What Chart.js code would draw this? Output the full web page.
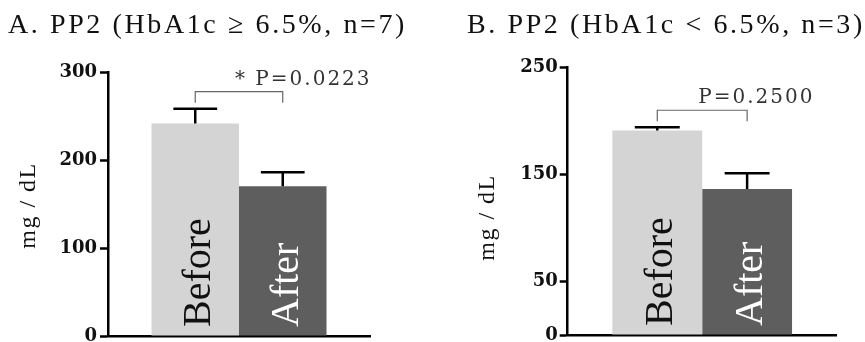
<!DOCTYPE html>
<html>
<head>
<meta charset="utf-8">
<script src="https://cdn.jsdelivr.net/npm/chart.js@4.4.0/dist/chart.umd.min.js"></script>
<style>
  body { margin: 0; background: #fff; }
  #wrap { position: relative; width: 865px; height: 342px; overflow: hidden; }
  canvas { position: absolute; top: 0; }
  .title { position: absolute; top: 10px; font-family: "Liberation Serif", serif; font-size: 28px;
           line-height: 28px; letter-spacing: 2.6px; color: #111; white-space: nowrap; }
</style>
</head>
<body>
<div id="wrap">
  <canvas id="chartA" width="432" height="342" style="left:0"></canvas>
  <canvas id="chartB" width="433" height="342" style="left:432px"></canvas>
  <div class="title" id="titleA" style="left:8px"></div>
  <div class="title" id="titleB" style="left:467px"></div>
</div>
<script>
// values (mean and SEM, mg/dL)
const groups = ["Before", "After"];
const meansA = [242, 170.5];
const semsA = [17, 16];
const meansB = [191, 136.3];
const semsB = [3, 14.7];
const ticksA = [0, 100, 200, 300];
const ticksB = [0, 50, 150, 250];
const titles = ["A. PP2 (HbA1c \u2265 6.5%, n=7)", "B. PP2 (HbA1c < 6.5%, n=3)"];
const pLabels = ["* P=0.0223", "P=0.2500"];
const yTitle = "mg / dL";

const barColors = ["#d4d4d4", "#5e5e5e"];
const labelColors = ["#111", "#fff"];

document.getElementById("titleA").textContent = titles[0];
document.getElementById("titleB").textContent = titles[1];

function makePanel(id, means, sems, ticks, pLabel, lay) {
    // draws the y title, in-bar labels, error bars, the bracket and the p value
    const extras = {
        id: "extras",
        afterDatasetsDraw(chart) {
            const ctx = chart.ctx;
            const y = chart.scales.y;
            const bars = chart.data.datasets.map((d, i) => chart.getDatasetMeta(i).data[0]);
            ctx.save();

            // y axis title
            ctx.save();
            ctx.translate(lay.titleX, lay.titleY);
            ctx.rotate(-Math.PI / 2);
            ctx.font = '24px "Liberation Serif"';
            ctx.letterSpacing = "1.5px";
            ctx.fillStyle = "#111";
            ctx.textAlign = "center";
            ctx.textBaseline = "middle";
            ctx.fillText(yTitle, 1, 0);
            ctx.restore();

            ctx.font = '40px "Liberation Serif"';
            ctx.textAlign = "left";
            ctx.textBaseline = "alphabetic";
            bars.forEach((b, i) => {
                ctx.save();
                ctx.translate(b.x + 15, y.bottom - 9);
                ctx.rotate(-Math.PI / 2);
                ctx.fillStyle = labelColors[i];
                ctx.fillText(groups[i], 0, 0);
                ctx.restore();
            });

            ctx.strokeStyle = "#000";
            ctx.lineWidth = 2.5;
            let topPx = Infinity;
            bars.forEach((b, i) => {
                const yt = y.getPixelForValue(means[i] + sems[i]);
                topPx = Math.min(topPx, yt);
                const half = b.width * 0.25;
                ctx.beginPath();
                ctx.moveTo(b.x, b.y);
                ctx.lineTo(b.x, yt);
                ctx.moveTo(b.x - half, yt);
                ctx.lineTo(b.x + half, yt);
                ctx.stroke();
            });

            // bracket
            const bTop = topPx - 17;
            const x1 = bars[0].x, x2 = bars[1].x;
            ctx.strokeStyle = "#666";
            ctx.lineWidth = 1.2;
            ctx.beginPath();
            ctx.moveTo(x1, bTop + 11);
            ctx.lineTo(x1, bTop);
            ctx.lineTo(x2, bTop);
            ctx.lineTo(x2, bTop + 11);
            ctx.stroke();

            ctx.font = '20px "DejaVu Serif"';
            ctx.letterSpacing = "2px";
            ctx.fillStyle = "#333";
            ctx.fillText(pLabel, (x1 + x2) / 2 - 4, bTop - 7);
            ctx.restore();
        }
    };

    new Chart(document.getElementById(id), {
        type: "bar",
        data: {
            labels: [""],
            datasets: groups.map((g, i) => ({
                label: g,
                data: [means[i]],
                backgroundColor: barColors[i],
                borderWidth: 0
            }))
        },
        options: {
            responsive: false,
            animation: false,
            devicePixelRatio: 1,
            categoryPercentage: 0.668,
            barPercentage: 1,
            layout: { padding: lay.padding },
            plugins: { legend: { display: false }, tooltip: { enabled: false } },
            scales: {
                x: {
                    grid: { display: false },
                    ticks: { display: false },
                    border: { color: "#000", width: 2.5 },
                    afterFit: s => { s.height = 0; }
                },
                y: {
                    min: 0,
                    max: ticks[ticks.length - 1],
                    afterBuildTicks: s => { s.ticks = ticks.map(v => ({ value: v })); },
                    afterFit: s => { s.width = lay.yWidth; s.paddingTop = 0; s.paddingBottom = 0; },
                    border: { color: "#000", width: 2.5 },
                    grid: { drawOnChartArea: false, drawTicks: true, tickLength: 8, tickWidth: 2.5, tickColor: "#000" },
                    ticks: { color: "#111", padding: lay.tickPad, font: { family: "DejaVu Serif", size: 18, weight: "bold" } }
                }
            }
        },
        plugins: [extras]
    });
}

makePanel("chartA", meansA, semsA, ticksA, pLabels[0],
    { padding: { left: 0, right: 62, top: 72.7, bottom: 6 }, yWidth: 108, tickPad: 3, titleX: 29, titleY: 206.5 });
makePanel("chartB", meansB, semsB, ticksB, pLabels[1],
    { padding: { left: 0, right: 28.3, top: 67.3, bottom: 7 }, yWidth: 135.7, tickPad: 2, titleX: 55.5, titleY: 218.5 });
</script>
</body>
</html>
